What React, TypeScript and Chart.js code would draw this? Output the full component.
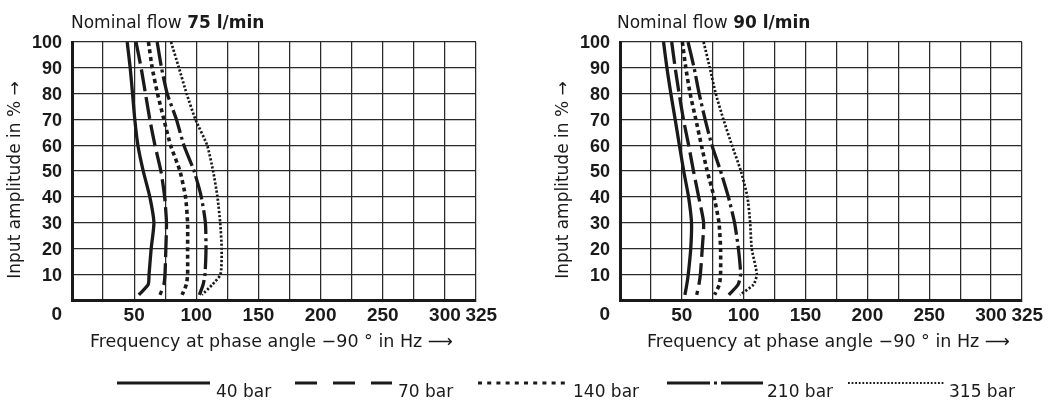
import React, { useEffect, useRef } from "react";
import { Chart, registerables } from "chart.js";

Chart.register(...registerables);

// ---------------- data ----------------
const amplitudeLevels = [100, 90, 80, 70, 60, 50, 40, 30, 20, 10, 6, 2];
const pressureLabels = ["40 bar", "70 bar", "140 bar", "210 bar", "315 bar"];
const xTickLabels = [50, 100, 150, 200, 250, 300, 325];
const flowTitles = ["75 l/min", "90 l/min"];

const flow75Bar40 = [44.4, 46.8, 48.7, 50.5, 53.0, 57.3, 62.6, 65.9, 63.7, 62.0, 61.3, 53.8];
const flow75Bar70 = [51.5, 55.6, 59.1, 62.6, 66.7, 71.5, 74.5, 76.0, 75.5, 74.8, 73.9, 70.8];
const flow75Bar140 = [61.5, 64.5, 68.8, 73.9, 79.3, 86.8, 91.3, 93.0, 93.0, 93.0, 92.0, 88.6];
const flow75Bar210 = [68.5, 72.0, 76.6, 84.0, 90.0, 98.2, 104.0, 107.3, 107.8, 107.0, 105.5, 102.5];
const flow75Bar315 = [79.7, 86.0, 92.2, 99.3, 108.7, 113.5, 117.0, 119.2, 120.4, 119.5, 113.0, 104.5];

const flow90Bar40 = [35.2, 37.9, 41.1, 44.6, 48.0, 51.5, 55.4, 57.8, 57.2, 55.2, 54.0, 52.5];
const flow90Bar70 = [41.8, 44.6, 47.8, 51.3, 55.5, 59.4, 63.6, 67.6, 66.5, 65.0, 63.8, 62.0];
const flow90Bar140 = [50.4, 53.2, 56.7, 61.3, 65.8, 70.5, 76.0, 80.0, 81.3, 81.3, 80.3, 76.5];
const flow90Bar210 = [55.0, 59.9, 64.0, 68.8, 74.3, 81.3, 87.6, 92.6, 95.7, 97.5, 95.5, 88.0];
const flow90Bar315 = [67.6, 72.6, 77.4, 83.6, 90.5, 97.7, 103.0, 105.2, 106.5, 110.6, 108.0, 97.0];

const flow75Series = [flow75Bar40, flow75Bar70, flow75Bar140, flow75Bar210, flow75Bar315];
const flow90Series = [flow90Bar40, flow90Bar70, flow90Bar140, flow90Bar210, flow90Bar315];

// ---------------- styles / layout ----------------
const W = 1049;
const H = 401;
const PLOT_TOP = 42;
const PLOT_BOTTOM = 300;
const Y_SCALE_W = 72;
const X_SCALE_H = 60;
const INK = "#1a1a1a";
const TEXT_FONT = '"DejaVu Sans", "Liberation Sans", sans-serif';
const TICK_FONT = '"Liberation Sans", Arial, sans-serif';

const lineStyles = [
  { width: 3.3, dash: [] as number[] },
  { width: 3.3, dash: [22, 6] },
  { width: 3.6, dash: [4, 3.5] },
  { width: 3.3, dash: [24, 4, 3, 4] },
  { width: 2.7, dash: [2.2, 1.9] },
];

const legendStyles = [
  { x1: 117, x2: 210, tx: 216, width: 2.8, dash: [] as number[] },
  { x1: 295, x2: 392, tx: 398, width: 2.8, dash: [22, 16] },
  { x1: 478, x2: 570, tx: 573, width: 3, dash: [4, 5.2] },
  { x1: 667, x2: 763, tx: 767, width: 2.8, dash: [43, 4, 3, 4] },
  { x1: 848, x2: 945, tx: 949, width: 2.2, dash: [1.8, 1.8] },
];

const panels = [
  { plotLeft: 72, plotRight: 476, xTitleX: 90, headX: 71, series: flow75Series, flow: flowTitles[0], legend: true },
  { plotLeft: 620, plotRight: 1022, xTitleX: 647, headX: 617, series: flow90Series, flow: flowTitles[1], legend: false },
];

type Panel = (typeof panels)[number];

function decorPlugin(p: Panel) {
  return {
    id: "decor",
    afterDraw(chart: any) {
      const ctx: CanvasRenderingContext2D = chart.ctx;
      ctx.save();
      ctx.fillStyle = INK;
      // heading
      ctx.textAlign = "left";
      ctx.textBaseline = "alphabetic";
      ctx.font = `17px ${TEXT_FONT}`;
      const pre = "Nominal flow ";
      ctx.fillText(pre, p.headX, 28);
      const w = ctx.measureText(pre).width;
      ctx.font = `bold 17px ${TEXT_FONT}`;
      ctx.fillText(p.flow, p.headX + w, 28);

      // corner "0"
      ctx.font = `bold 19px ${TICK_FONT}`;
      ctx.textAlign = "right";
      ctx.textBaseline = "middle";
      ctx.fillText("0", p.plotLeft - 10, 315);

      // x title
      ctx.font = `17.5px ${TEXT_FONT}`;
      ctx.textAlign = "left";
      ctx.textBaseline = "alphabetic";
      ctx.fillText("Frequency at phase angle \u221290 \u00b0 in Hz \u27f6", p.xTitleX, 347);

      // y title
      ctx.font = `17px ${TEXT_FONT}`;
      ctx.save();
      ctx.translate(p.plotLeft - 56.5, 180);
      ctx.rotate(-Math.PI / 2);
      ctx.textAlign = "center";
      ctx.textBaseline = "middle";
      ctx.fillText("Input amplitude in % \u2192", 0, 0);
      ctx.restore();

      // legend
      if (p.legend) {
        pressureLabels.forEach((label, i) => {
          const s = legendStyles[i];
          ctx.save();
          ctx.strokeStyle = INK;
          ctx.lineWidth = s.width;
          ctx.lineCap = "butt";
          ctx.setLineDash(s.dash);
          ctx.beginPath();
          ctx.moveTo(s.x1, 383);
          ctx.lineTo(s.x2, 383);
          ctx.stroke();
          ctx.restore();
          ctx.font = `17px ${TEXT_FONT}`;
          ctx.textAlign = "left";
          ctx.textBaseline = "alphabetic";
          ctx.fillText(label, s.tx, 397);
        });
      }
      ctx.restore();
    },
  };
}

function buildConfig(p: Panel): any {
  return {
    type: "line",
    data: {
      datasets: pressureLabels.map((label, i) => ({
        label,
        data: amplitudeLevels.map((a, j) => ({ x: p.series[i][j], y: a })),
        borderColor: INK,
        borderWidth: lineStyles[i].width,
        borderDash: lineStyles[i].dash,
        borderCapStyle: "butt",
        borderJoinStyle: "round",
        pointRadius: 0,
        tension: 0.2,
        fill: false,
      })),
    },
    options: {
      animation: false,
      responsive: false,
      devicePixelRatio: 1,
      events: [],
      layout: {
        padding: {
          left: p.plotLeft - Y_SCALE_W,
          right: W - p.plotRight,
          top: PLOT_TOP,
          bottom: H - PLOT_BOTTOM - X_SCALE_H,
        },
      },
      plugins: {
        legend: { display: false },
        title: { display: false },
        tooltip: { enabled: false },
      },
      scales: {
        x: {
          type: "linear",
          min: 0,
          max: 325,
          afterFit(scale: any) {
            scale.height = X_SCALE_H;
          },
          grid: { color: "#2a2a2a", lineWidth: 1.25, drawTicks: false },
          border: { color: INK, width: 3 },
          ticks: {
            stepSize: 25,
            autoSkip: false,
            maxRotation: 0,
            minRotation: 0,
            padding: 4,
            color: INK,
            font: { family: TICK_FONT, size: 19, weight: "bold" },
            callback: (v: number) =>
              v === 325 ? "  325" : xTickLabels.includes(v) ? String(v) : "",
          },
        },
        y: {
          type: "linear",
          min: 0,
          max: 100,
          afterFit(scale: any) {
            scale.width = Y_SCALE_W;
          },
          grid: { color: "#2a2a2a", lineWidth: 1.25, drawTicks: false },
          border: { color: INK, width: 3 },
          ticks: {
            stepSize: 10,
            padding: 10,
            labelOffset: 1.5,
            color: INK,
            font: { family: TICK_FONT, size: 18, weight: "bold" },
            callback: (v: number) => (v === 0 ? "" : String(v)),
          },
        },
      },
    },
    plugins: [decorPlugin(p)],
  };
}

function PanelCanvas({ panel }: { panel: Panel }) {
  const ref = useRef<HTMLCanvasElement | null>(null);
  useEffect(() => {
    if (!ref.current) return;
    const chart = new Chart(ref.current, buildConfig(panel));
    return () => chart.destroy();
  }, [panel]);
  return (
    <canvas
      ref={ref}
      width={W}
      height={H}
      style={{ position: "absolute", left: 0, top: 0, width: W, height: H }}
    />
  );
}

export default function App() {
  return (
    <div
      style={{
        position: "fixed",
        left: 0,
        top: 0,
        width: W,
        height: H,
        background: "#fff",
        overflow: "hidden",
      }}
    >
      {panels.map((p, i) => (
        <PanelCanvas key={i} panel={p} />
      ))}
    </div>
  );
}
